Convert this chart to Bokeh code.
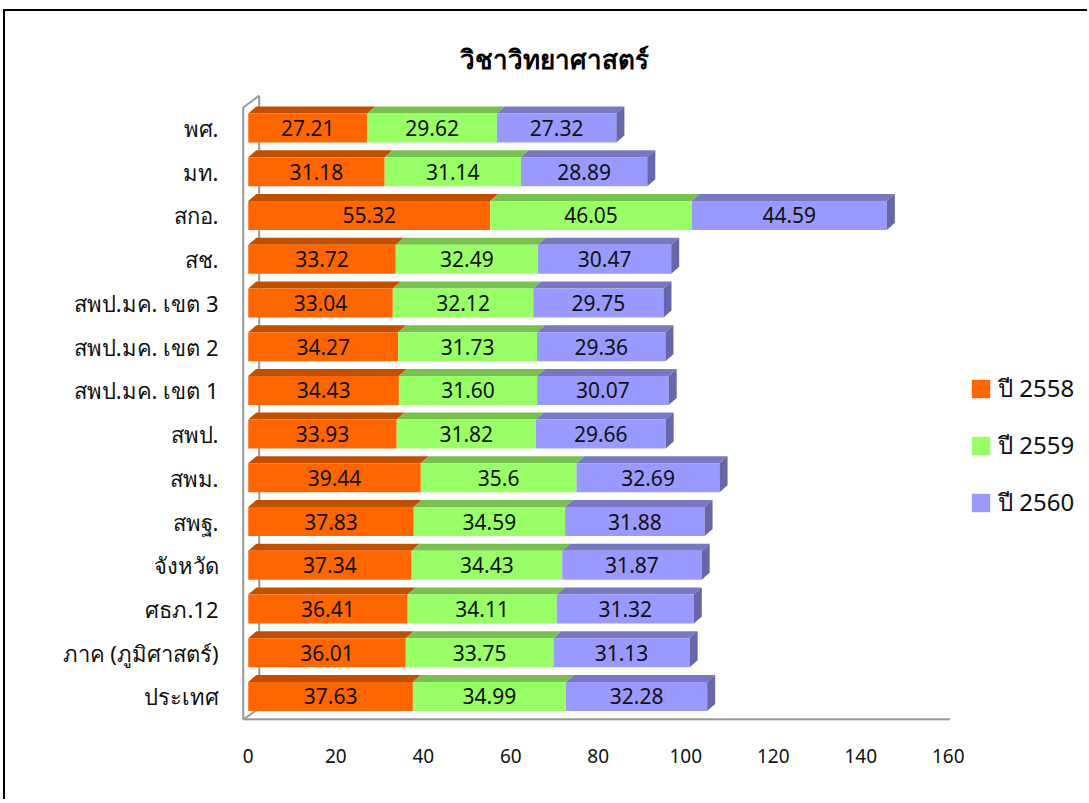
from bokeh.plotting import figure
from bokeh.models import (ColumnDataSource, Range1d, FixedTicker, Legend, LegendItem, Title)
from bokeh.core.properties import value
from bokeh.embed import file_html
from bokeh.resources import INLINE

# ---- data (top to bottom as shown) ----
categories = ["พศ.", "มท.", "สกอ.", "สช.", "สพป.มค. เขต 3", "สพป.มค. เขต 2",
              "สพป.มค. เขต 1", "สพป.", "สพม.", "สพฐ.", "จังหวัด", "ศธภ.12",
              "ภาค (ภูมิศาสตร์)", "ประเทศ"]
v2558 = ["27.21", "31.18", "55.32", "33.72", "33.04", "34.27", "34.43", "33.93",
         "39.44", "37.83", "37.34", "36.41", "36.01", "37.63"]
v2559 = ["29.62", "31.14", "46.05", "32.49", "32.12", "31.73", "31.60", "31.82",
         "35.6", "34.59", "34.43", "34.11", "33.75", "34.99"]
v2560 = ["27.32", "28.89", "44.59", "30.47", "29.75", "29.36", "30.07", "29.66",
         "32.69", "31.88", "31.87", "31.32", "31.13", "32.28"]
series_names = ["ปี 2558", "ปี 2559", "ปี 2560"]
x_ticks = [0, 20, 40, 60, 80, 100, 120, 140, 160]

# ---- styles ----
front_cols = ["#FF6600", "#99FF66", "#9999FF"]
top_cols = ["#C05000", "#78C050", "#7878C0"]
side_col = "#6666A8"
FONT = "Noto Sans"

n = len(categories)
ys = [n - 1 - i for i in range(n)]
H = 0.663   # front face height (category units)
DX = 1.83   # depth offset x (data units)
DY = 0.16   # depth offset y (category units)

p = figure(width=1084, height=790, output_backend="svg", toolbar_location=None,
           x_range=Range1d(-2, 192.29), y_range=Range1d(-0.549, 13.812),
           min_border_left=234, min_border_right=0, min_border_top=81,
           min_border_bottom=81)
p.styles = {"border-top": "2px solid black", "border-left": "2px solid black",
            "margin-left": "3px", "margin-top": "9px"}
p.outline_line_color = None
p.xgrid.visible = False
p.ygrid.visible = False

# 3D wall / floor lines
wx0, wx1 = -1.14, 2.5
p.line(x=[wx1, wx1], y=[-0.27, 13.74], line_color="#9A9A9A", line_width=2)
p.line(x=[wx0, wx0, wx1], y=[-0.526, 13.47, 13.74], line_color="#9A9A9A", line_width=2)
p.line(x=[wx0, wx1], y=[-0.526, -0.27], line_color="#9A9A9A", line_width=2)
p.line(x=[wx0, 160.4], y=[-0.526, -0.526], line_color="#9A9A9A", line_width=2.5)

series = [[float(s) for s in v] for v in (v2558, v2559, v2560)]
labels = [v2558, v2559, v2560]
lefts = [0.0] * n
front_renderers = []
for k in range(3):
    vals = series[k]
    left = list(lefts)
    right = [l + v for l, v in zip(left, vals)]
    # top face
    xs_t, ys_t = [], []
    for l, r, y in zip(left, right, ys):
        t = y + H / 2
        xs_t.append([l, r, r + DX, l + DX])
        ys_t.append([t, t, t + DY, t + DY])
    p.patches(xs=xs_t, ys=ys_t, fill_color=top_cols[k], line_color=None)
    r = p.hbar(y=ys, left=left, right=right, height=H, fill_color=front_cols[k],
               line_color=None)
    front_renderers.append(r)
    src = ColumnDataSource(dict(x=[(l + rr) / 2 for l, rr in zip(left, right)], y=ys,
                                t=labels[k]))
    p.text(x="x", y="y", text="t", source=src, text_align="center",
           text_baseline="middle", text_font=value(FONT), text_font_size="21px",
           text_color="#111111")
    lefts = right

# side face of last segment
xs_s, ys_s = [], []
for r_, y in zip(lefts, ys):
    b, t = y - H / 2, y + H / 2
    xs_s.append([r_, r_, r_ + DX, r_ + DX])
    ys_s.append([b, t, t + DY, b + DY])
p.patches(xs=xs_s, ys=ys_s, fill_color=side_col, line_color=None)

# axes
p.xaxis.ticker = FixedTicker(ticks=x_ticks)
p.xaxis.axis_line_color = None
p.xaxis.major_tick_line_color = None
p.xaxis.minor_tick_line_color = None
p.xaxis.major_label_text_font = FONT
p.xaxis.major_label_text_font_size = "19px"
p.xaxis.major_label_text_color = "#111111"
p.xaxis.major_label_standoff = 22

p.yaxis.ticker = FixedTicker(ticks=ys)
p.yaxis.major_label_overrides = {y: c for y, c in zip(ys, categories)}
p.yaxis.axis_line_color = None
p.yaxis.major_tick_line_color = None
p.yaxis.minor_tick_line_color = None
p.yaxis.major_label_text_font = FONT
p.yaxis.major_label_text_font_size = "22px"
p.yaxis.major_label_text_color = "#111111"
p.yaxis.major_label_standoff = 15

# title
p.add_layout(Title(text="วิชาวิทยาศาสตร์", align="left", offset=220,
                   text_font=FONT, text_font_size="26px", text_font_style="bold",
                   standoff=32, text_color="#000000"), "above")

legend = Legend(items=[LegendItem(label=series_names[k], renderers=[front_renderers[k]])
                       for k in range(3)],
                location=(730, 198), glyph_width=23, glyph_height=23,
                label_text_font=FONT, label_text_font_size="24px",
                label_text_color="#111111", spacing=18, padding=0, margin=0,
                label_standoff=6, border_line_alpha=0, background_fill_alpha=0)
p.add_layout(legend, "center")

open("out.html", "w").write(file_html(p, INLINE))
